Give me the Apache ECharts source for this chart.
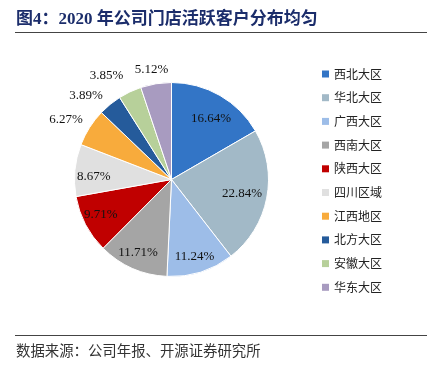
<!DOCTYPE html>
<html>
<head>
<meta charset="utf-8">
<script src="https://cdn.jsdelivr.net/npm/echarts@6/dist/echarts.min.js"></script>
<style>
html, body { margin: 0; padding: 0; background: #fff; }
#main { width: 436px; height: 375px; }
</style>
</head>
<body>
<div id="main"></div>
<script>
var regions = ['西北大区', '华北大区', '广西大区', '西南大区', '陕西大区', '四川区域', '江西地区', '北方大区', '安徽大区', '华东大区'];
var shares = [16.64, 22.84, 11.24, 11.71, 9.71, 8.67, 6.27, 3.89, 3.85, 5.12];

var chart = echarts.init(document.getElementById('main'));

var colors = ['#3375C6', '#A2B9C7', '#9DBDE8', '#A5A5A5', '#C00000', '#E0E0E0', '#F8AB3C', '#255B9B', '#B7D09A', '#A89BC0'];
// small slices get their label outside the pie, nudged like the excel "best fit"
var outside = [false, false, false, false, false, false, true, true, true, true];
var nudge = [[3, 2], [-1, 0], [1, 7], [-4, 6], [-6, 1], [-5, 4], [-5, 4], [-10, 8], [-14, 4], [-1, 8]];

var center = [171.5, 179.5];
var labelStyle = {
    fontFamily: '"Liberation Serif", "Times New Roman", serif',
    fontSize: 13,
    color: '#111'
};

function labelData(wantOutside) {
    return regions.map(function(name, i) {
        return {
            name: name,
            value: shares[i],
            label: {show: outside[i] === wantOutside, offset: nudge[i]}
        };
    });
}

function labelSeries(name, r, wantOutside) {
    // invisible pie used only to place the labels at r/2 from the centre
    return {
        name: name,
        type: 'pie',
        center: center,
        radius: [0, r],
        startAngle: 90,
        silent: true,
        avoidLabelOverlap: false,
        labelLayout: {hideOverlap: false},
        itemStyle: {color: 'rgba(0,0,0,0)'},
        label: Object.assign({position: 'inside', formatter: '{c}%'}, labelStyle),
        labelLine: {show: false},
        emphasis: {disabled: true},
        z: 3,
        data: labelData(wantOutside)
    };
}

var option = {
    animation: false,
    color: colors,
    legend: {
        orient: 'vertical',
        left: 317,
        top: 63,
        itemWidth: 7,
        itemHeight: 7,
        itemGap: 11.7,
        itemStyle: {borderWidth: 0},
        icon: 'rect',
        data: regions,
        textStyle: {
            fontFamily: '"Noto Sans CJK SC", sans-serif',
            fontSize: 12,
            color: '#222'
        }
    },
    graphic: [
        {
            type: 'text', left: 16, top: 11,
            style: {
                text: '图4：2020 年公司门店活跃客户分布均匀',
                font: 'bold 17px "Liberation Serif", "Noto Sans CJK SC", serif',
                fill: '#1B2D6B'
            }
        },
        {
            type: 'line',
            shape: {x1: 15, y1: 32.5, x2: 427, y2: 32.5},
            style: {stroke: '#444', lineWidth: 1}
        },
        {
            type: 'line',
            shape: {x1: 15, y1: 335.5, x2: 427, y2: 335.5},
            style: {stroke: '#444', lineWidth: 1}
        },
        {
            type: 'text', left: 16, top: 343,
            style: {
                text: '数据来源：公司年报、开源证券研究所',
                font: '14.4px "Noto Sans CJK SC", sans-serif',
                fill: '#333'
            }
        }
    ],
    series: [
        {
            name: 'main',
            type: 'pie',
            center: center,
            radius: [0, 97],
            startAngle: 90,
            clockwise: true,
            silent: true,
            label: {show: false},
            labelLine: {show: false},
            itemStyle: {borderColor: '#fff', borderWidth: 1},
            data: regions.map(function(name, i) {
                return {name: name, value: shares[i]};
            })
        },
        labelSeries('innerLabels', 140, false),
        labelSeries('outerLabels', 232, true)
    ]
};

chart.setOption(option);
</script>
</body>
</html>
